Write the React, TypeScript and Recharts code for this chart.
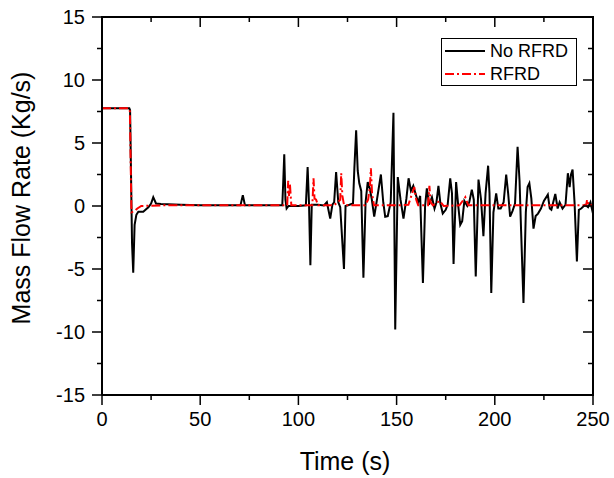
import { LineChart, Line, XAxis, YAxis } from "recharts";

// No RFRD (black solid) - time in s, mass flow in kg/s
const noRfrdTime = [
  0, 13.9, 14.3, 15.3, 15.9, 16.6, 17.5, 18.5, 21, 23.6, 25, 26.1, 27.5, 30, 40, 50, 60, 70.5, 71.7, 72.8, 80,
  91.8, 92.3, 92.8, 93.4, 94, 95, 100, 103.8, 104.7, 105.4, 106.1, 106.8, 110, 113, 114.5, 116.2, 117.3, 118.2,
  119.2, 120.3, 121.3, 123.2, 124, 126, 127.8, 128.5, 129.4, 130.2, 131, 132, 133.1, 134.2, 135.3, 136.3, 137.3,
  138.6, 140, 142, 143.2, 144.2, 145.5, 147, 148.4, 149.3, 150.6, 152, 153.5, 155, 156.1, 157.3, 158.5, 160, 161,
  162, 163.4, 164.5, 165.4, 166.5, 168, 169.3, 170.3, 171.3, 172.3, 173.5, 175, 176, 177.3, 178.2, 179, 180.3,
  181.4, 182.4, 183.4, 184.5, 186, 187, 188.3, 189.3, 190.3, 191.7, 193, 194.2, 195.3, 196.6, 197.3, 198.2, 199.3,
  200.7, 201.8, 203, 204.5, 205.8, 206.8, 207.8, 209, 210.3, 211.6, 212.6, 213.4, 214.6, 215.8, 216.7, 217.6,
  218.6, 219.7, 220.8, 222, 223.5, 225, 227, 228, 228.8, 230.8, 232, 233, 234.5, 236, 237.2, 238.1, 238.8, 239.6,
  240.6, 241.8, 242.8, 244, 246, 247.5, 248.7, 250,
];
const noRfrdFlow = [
  7.75, 7.75, 7.6, -3, -5.3, -1.5, -0.7, -0.45, -0.45, -0.1, 0.2, 0.7, 0.2, 0.15, 0.1, 0.05, 0.05, 0.05, 0.85, 0.05, 0.05,
  0.05, 2.0, 4.1, 0.5, -0.2, 0, 0, 0.05, 3.1, 0.2, -4.7, 0.1, 0.1, 0.05, 0.3, -1.0, 0.1, 0.3,
  2.7, 0.3, -0.1, -5.0, 0, 0.1, 0.2, 3.0, 6.0, 2.8, 1.8, 1.2, -5.7, 0.3, 1.9, 1.4, 0.6,
  -0.85, 0.5, 2.5, 0.3, -0.85, -0.8, 0.3, 7.4, -9.8, 2.3, 0.5, -1.0, 0.6, 2.2, 1.2, 1.6, 0.8, 0.3,
  0.8, -6.1, 0, 1.4, 0.1, 0.7, -0.2, 0.3, 1.6, 0.2, -0.6, -0.3, 0.1, 2.2, 1.0, -4.6, 1.9,
  0, -1.5, -1.2, 0.4, 0, 0.3, 1.3, 0.5, -5.6, 2.1, 0.5, -2.4, 1.0, 3.2, 1.0, -6.9, -0.5,
  1.0, -0.2, -0.2, 0.3, 2.5, 1.0, -0.85, -0.4, 0.2, 4.7, 2.0, -2.0, -7.7, -0.5, 1.5, 1.8,
  0.6, -1.8, -0.8, -0.6, -0.2, 0.4, 0.9, -0.2, -0.3, 0.95, -0.2, 0.3, -0.2, 0.1, 2.6, 1.5, 2.5, 2.9,
  0.3, -4.4, -0.3, -0.2, 0.1, -0.1, 0.3, -0.6,
];

// RFRD (red dash-dot)
const rfrdTime = [
  0, 13.8, 14.2, 15.0, 16.5, 18, 20, 30, 50, 70, 94.3, 94.8, 95.2, 95.7, 96.4, 107.1, 107.7, 108.2, 109, 110,
  118, 120, 121.3, 121.8, 122.4, 123.2, 126, 134, 135.5, 136.4, 136.9, 137.5, 138.5, 150, 156, 157.5, 159, 160,
  161, 166, 166.7, 167.3, 168.5, 172, 174, 182, 185, 186.5, 246.5, 247, 247.8, 250,
];
const rfrdFlow = [
  7.75, 7.75, 7.5, -0.5, -0.4, -0.2, 0, 0.05, 0.05, 0.05, 0.05, 2.0, 0.8, 1.7, 0.05, 0.05, 2.2, 0.6, 0.5, 0.05,
  0.05, 0.3, 0.5, 2.6, 0.8, 0.1, 0.05, 0.05, 0.5, 1.5, 3.0, 1.0, 0.05, 0.05, 0.1, 0.8, 1.5, 0.5,
  0.05, 0.05, 1.6, 0.3, 0.05, 0.4, 0, 0.05, 0.7, 0.05, 0.05, 0.5, 0.05, 0.05,
];

const xTicks = [0, 25, 50, 75, 100, 125, 150, 175, 200, 225, 250];
const xMajor = [0, 50, 100, 150, 200, 250];
const yTicks = [-15, -12.5, -10, -7.5, -5, -2.5, 0, 2.5, 5, 7.5, 10, 12.5, 15];
const yMajor = [-15, -10, -5, 0, 5, 10, 15];
const X_DOMAIN = [0, 250];
const Y_DOMAIN = [-15, 15];

const noRfrdData = noRfrdTime.map((t, i) => ({ time: t, flow: noRfrdFlow[i] }));
const rfrdData = rfrdTime.map((t, i) => ({ time: t, flow: rfrdFlow[i] }));

const FONT = "'Liberation Sans', Arial, sans-serif";
const DASH = "9 3 2 3";

// chart box (plot area = margin + axis sizes)
const W = 614;
const H = 478;
const MARGIN = { top: 17, right: 21, bottom: 53, left: 42 };
const Y_AXIS_W = 60;
const X_AXIS_H = 30;
const PLOT = {
  left: MARGIN.left + Y_AXIS_W,
  right: W - MARGIN.right,
  top: MARGIN.top,
  bottom: H - MARGIN.bottom - X_AXIS_H,
};

// draws tick mark (major/minor) plus label
const makeTick = (side: string, majors: number[]) => (props: any) => {
  const { x, y, payload } = props;
  const v = payload.value;
  const major = majors.includes(v);
  const len = major ? 10 : 5;
  if (side === "bottom") {
    return (
      <g>
        <line x1={x} y1={y} x2={x} y2={y + len} stroke="#000" strokeWidth={1.5} />
        {major && (
          <text x={x} y={y + 31} textAnchor="middle" fontSize={20} fontFamily={FONT} fill="#000">
            {v}
          </text>
        )}
      </g>
    );
  }
  return (
    <g>
      <line x1={x} y1={y} x2={x - len} y2={y} stroke="#000" strokeWidth={1.5} />
      {major && (
        <text x={x - 17} y={y + 7} textAnchor="end" fontSize={20} fontFamily={FONT} fill="#000">
          {v}
        </text>
      )}
    </g>
  );
};

// top and right edges of the box, with inward ticks (Origin style mirrored axes)
const MirrorFrame = () => {
  const w = PLOT.right - PLOT.left;
  const h = PLOT.bottom - PLOT.top;
  return (
    <svg
      width={W}
      height={H}
      style={{ position: "absolute", left: 0, top: 0, pointerEvents: "none" }}
    >
      <line x1={PLOT.left - 1} y1={PLOT.top} x2={PLOT.right + 1} y2={PLOT.top} stroke="#000" strokeWidth={2} />
      <line x1={PLOT.right} y1={PLOT.top} x2={PLOT.right} y2={PLOT.bottom + 1} stroke="#000" strokeWidth={2} />
      {xTicks.map((t) => {
        const x = PLOT.left + ((t - X_DOMAIN[0]) / (X_DOMAIN[1] - X_DOMAIN[0])) * w;
        const len = xMajor.includes(t) ? 10 : 5;
        return <line key={t} x1={x} y1={PLOT.top} x2={x} y2={PLOT.top + len} stroke="#000" strokeWidth={1.5} />;
      })}
      {yTicks.map((v) => {
        const y = PLOT.bottom - ((v - Y_DOMAIN[0]) / (Y_DOMAIN[1] - Y_DOMAIN[0])) * h;
        const len = yMajor.includes(v) ? 10 : 5;
        return <line key={v} x1={PLOT.right} y1={y} x2={PLOT.right - len} y2={y} stroke="#000" strokeWidth={1.5} />;
      })}
    </svg>
  );
};

const ChartLegend = () => (
  <div
    style={{
      position: "absolute",
      left: 441,
      top: 38,
      border: "1px solid #000",
      background: "#fff",
      width: 136,
      height: 48,
      boxSizing: "border-box",
    }}
  >
    <svg width={134} height={46} style={{ display: "block" }}>
      <line x1={3} y1={12} x2={43} y2={12} stroke="#000" strokeWidth={2} />
      <text x={48} y={18} fontSize={18} fontFamily={FONT}>No RFRD</text>
      <line x1={3} y1={35} x2={43} y2={35} stroke="#ff0000" strokeWidth={2} strokeDasharray={DASH} />
      <text x={48} y={41} fontSize={18} fontFamily={FONT}>RFRD</text>
    </svg>
  </div>
);

export default function App() {
  return (
    <div style={{ position: "absolute", left: 0, top: 0, width: W, height: H, background: "#fff" }}>
      <LineChart width={W} height={H} margin={MARGIN}>
        <XAxis
          dataKey="time"
          type="number"
          domain={X_DOMAIN}
          ticks={xTicks}
          interval={0}
          tickSize={0}
          tickMargin={0}
          height={X_AXIS_H}
          axisLine={{ stroke: "#000", strokeWidth: 2 }}
          tickLine={false}
          tick={makeTick("bottom", xMajor)}
          allowDataOverflow
          label={{
            content: () => (
              <text x={345} y={470} textAnchor="middle" fontSize={25} fontFamily={FONT} fill="#000">
                Time (s)
              </text>
            ),
          }}
        />
        <YAxis
          type="number"
          domain={Y_DOMAIN}
          ticks={yTicks}
          interval={0}
          tickSize={0}
          tickMargin={0}
          width={Y_AXIS_W}
          axisLine={{ stroke: "#000", strokeWidth: 2 }}
          tickLine={false}
          tick={makeTick("left", yMajor)}
          allowDataOverflow
          label={{
            content: () => (
              <text
                x={30}
                y={198}
                transform="rotate(-90 30 198)"
                textAnchor="middle"
                fontSize={25}
                fontFamily={FONT}
                fill="#000"
              >
                Mass Flow Rate (Kg/s)
              </text>
            ),
          }}
        />
        <Line
          data={noRfrdData}
          dataKey="flow"
          type="linear"
          stroke="#000"
          strokeWidth={2}
          dot={false}
          isAnimationActive={false}
        />
        <Line
          data={rfrdData}
          dataKey="flow"
          type="linear"
          stroke="#ff0000"
          strokeWidth={2}
          strokeDasharray={DASH}
          dot={false}
          isAnimationActive={false}
        />
      </LineChart>
      <MirrorFrame />
      <ChartLegend />
    </div>
  );
}
